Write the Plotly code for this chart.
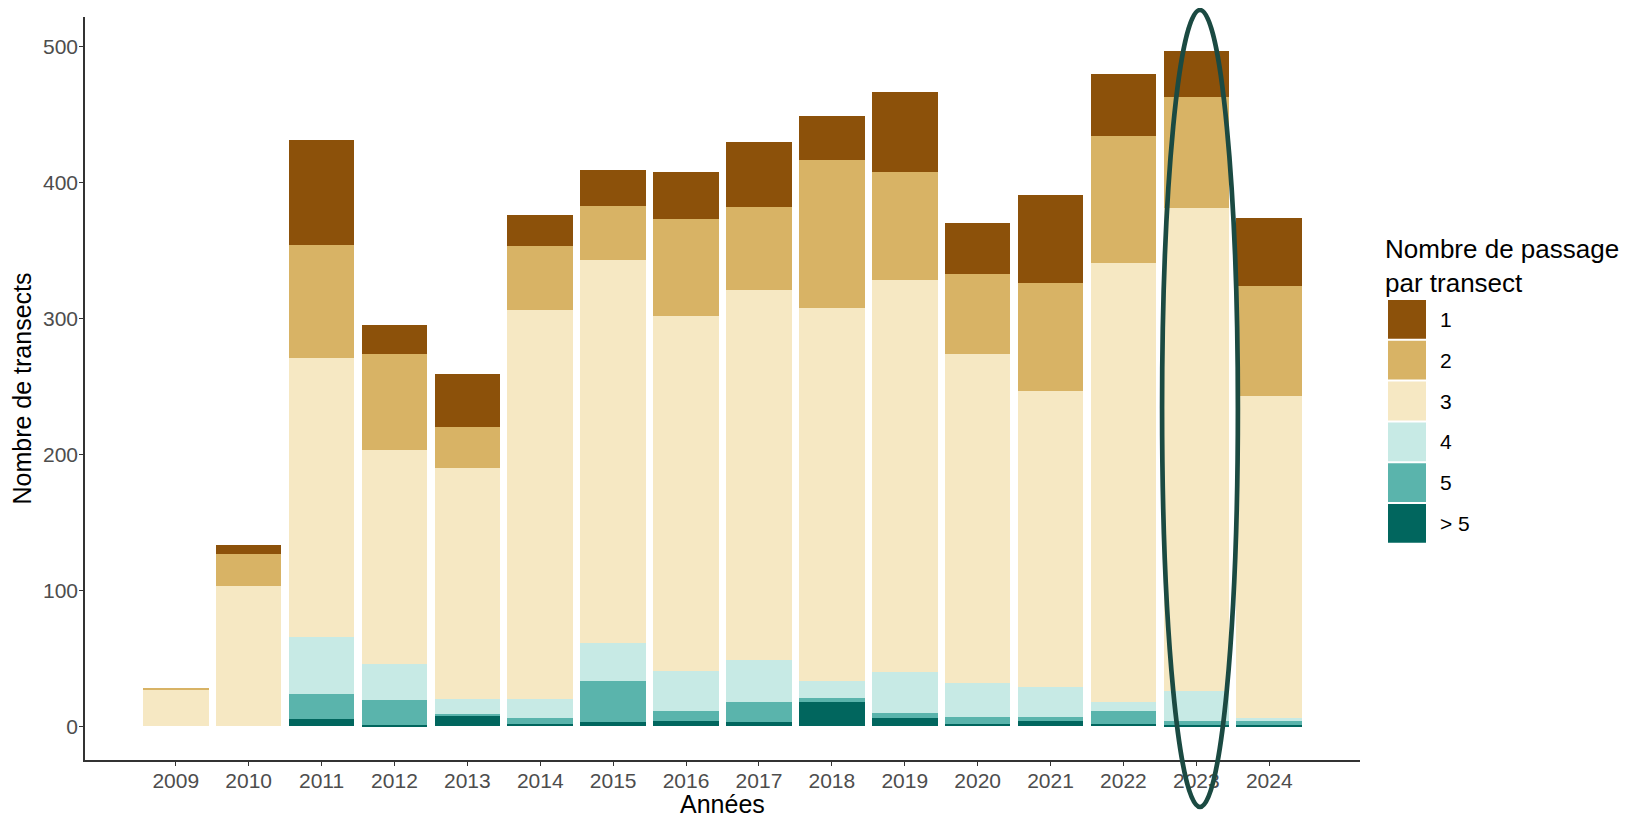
import plotly.graph_objects as go

years = list(range(2009, 2025))
tick_labels = [str(y) for y in years]
categories = ["1", "2", "3", "4", "5", "> 5"]
colors = ["#8C510A", "#D8B365", "#F6E8C3", "#C7EAE5", "#5AB4AC", "#01665E"]

n1 = [0, 6, 77, 21, 39, 23, 26, 35, 48, 32, 59, 37, 65, 46, 34, 50]
n2 = [1, 24, 83, 71, 30, 47, 40, 71, 61, 109, 80, 59, 79, 93, 82, 81]
n3 = [27, 103, 205, 157, 170, 286, 282, 261, 272, 275, 288, 242, 218, 323, 355, 237]
n4 = [0, 0, 42, 27, 11, 14, 28, 30, 31, 12, 30, 25, 22, 7, 22, 2]
n5 = [0, 0, 19, 18, 1, 4, 30, 7, 15, 3, 4, 5, 3, 9, 3, 3]
n6 = [0, 0, 5, 1, 8, 2, 3, 4, 3, 18, 6, 2, 4, 2, 1, 1]

series = [n1, n2, n3, n4, n5, n6]
highlight_year = 2023

W, H = 1636, 817
L, R, T, B = 77, 284, 9, 65
PW, PH = W - L - R, H - T - B


def px(xpix):
    return (xpix - L) / PW


def py(ypix):
    return (H - B - ypix) / PH


fig = go.Figure()
# stack from bottom (> 5) to top (1)
for name, col, vals in reversed(list(zip(categories, colors, series))):
    fig.add_trace(go.Bar(x=years, y=vals, name=name, marker=dict(color=col, line=dict(width=0)),
                         width=0.9, showlegend=False))

totals = [sum(v) for v in zip(*series)]
ymax = max(totals)
x_lo, x_hi = min(years) - 0.45, max(years) + 0.45
xspan = x_hi - x_lo

fig.update_layout(
    width=W, height=H,
    barmode="stack",
    plot_bgcolor="white", paper_bgcolor="white",
    margin=dict(l=L, r=R, t=T, b=B, autoexpand=False),
    font=dict(family="Liberation Sans, Arial, sans-serif"),
    xaxis=dict(range=[x_lo - 0.05 * xspan, x_hi + 0.05 * xspan], tickmode="array",
               tickvals=years, ticktext=tick_labels, showgrid=False, zeroline=False,
               showline=True, linecolor="#333333", linewidth=1.5,
               ticks="outside", ticklen=4, tickcolor="#333333", automargin=False,
               ticklabelstandoff=-3,
               tickfont=dict(size=21, color="#4D4D4D")),
    yaxis=dict(range=[-0.05 * ymax, ymax * 1.05], tickvals=[0, 100, 200, 300, 400, 500],
               showgrid=False, zeroline=False, showline=True, linecolor="#333333", linewidth=1.5,
               ticks="outside", ticklen=4, tickcolor="#333333", automargin=False,
               ticklabelstandoff=-3,
               tickfont=dict(size=21, color="#4D4D4D"),
               title=dict(text="Nombre de transects", font=dict(size=25, color="black"), standoff=6)),
)

# x-axis title
fig.add_annotation(x=0.5, y=py(796), xref="paper", yref="paper", xanchor="center", yanchor="middle",
                   text="Années", showarrow=False, font=dict(size=25, color="black"))

# manual legend (large swatches like ggplot)
leg_x0, leg_x1 = 1380, 1418
row_top0, row_h = 292, 40.8
fig.add_annotation(x=px(1375), y=py(224), xref="paper", yref="paper", xanchor="left", yanchor="top",
                   text="Nombre de passage<br>par transect", showarrow=False, align="left",
                   font=dict(size=26, color="black"))
shapes = []
for i, (name, col) in enumerate(zip(categories, colors)):
    top = row_top0 + i * row_h
    shapes.append(dict(type="rect", xref="paper", yref="paper",
                       x0=px(leg_x0), x1=px(leg_x1), y0=py(top + row_h - 2), y1=py(top),
                       fillcolor=col, line=dict(width=0)))
    fig.add_annotation(x=px(1430), y=py(top + row_h / 2 - 1), xref="paper", yref="paper",
                       xanchor="left", yanchor="middle", text=name, showarrow=False,
                       font=dict(size=21, color="black"))

# highlight ellipse around 2023
shapes.append(dict(type="circle", xref="x", yref="paper",
                   x0=highlight_year - 0.47, x1=highlight_year + 0.57,
                   y0=py(799), y1=py(2),
                   line=dict(color="#1B4A42", width=4.7), fillcolor="rgba(0,0,0,0)", layer="above"))
fig.update_layout(shapes=shapes)

fig.write_html("out.html")
